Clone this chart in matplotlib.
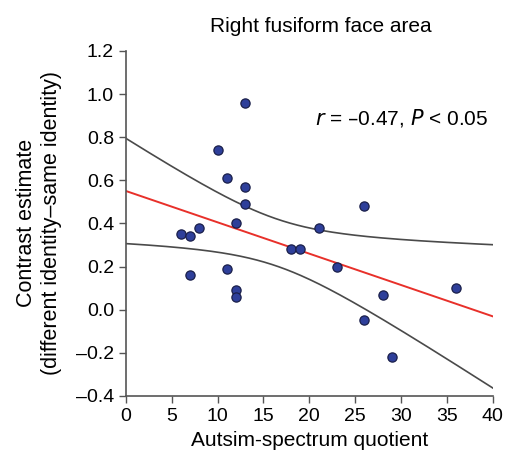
import numpy as np
import matplotlib
matplotlib.use("Agg")
import matplotlib.pyplot as plt

plt.rcParams['font.family'] = ['Liberation Sans', 'DejaVu Sans']

# autism-spectrum quotient vs contrast estimate
aq = [6, 7, 8, 7, 10, 11, 11, 12, 12, 12, 13, 13, 13, 18, 19, 21, 23, 26, 26, 28, 29, 36]
contrast = [0.35, 0.34, 0.38, 0.16, 0.74, 0.61, 0.19, 0.40, 0.09, 0.06, 0.96, 0.57,
            0.49, 0.28, 0.28, 0.38, 0.20, 0.48, -0.05, 0.07, -0.22, 0.10]

xticks = [0, 5, 10, 15, 20, 25, 30, 35, 40]
yticks = [-0.4, -0.2, 0.0, 0.2, 0.4, 0.6, 0.8, 1.0, 1.2]

x = np.array(aq, dtype=float)
y = np.array(contrast)
n = len(x)

# least squares fit and 95% confidence band of the mean
slope, intercept = np.polyfit(x, y, 1)
resid = y - (slope * x + intercept)
s = np.sqrt(np.sum(resid ** 2) / (n - 2))
t = 2.086  # t(0.975, 20)
xs = np.linspace(0, 40, 200)
fit = slope * xs + intercept
se = s * np.sqrt(1.0 / n + (xs - x.mean()) ** 2 / np.sum((x - x.mean()) ** 2))

fig = plt.figure(figsize=(5.16, 4.55), dpi=100)
ax = fig.add_axes([0.244, 0.130, 0.711, 0.758])

ax.plot(xs, fit + t * se, color='#4a4a4a', lw=1.2)
ax.plot(xs, fit - t * se, color='#4a4a4a', lw=1.2)
ax.plot(xs, fit, color='#e8302a', lw=1.4)
ax.scatter(x, y, s=44, color='#2e3f9a', edgecolor='#1a1f4a', linewidth=0.9, zorder=3)

ax.set_xlim(0, 40)
ax.set_ylim(-0.4, 1.2)
ax.set_xticks(xticks)
ax.set_yticks(yticks)
ax.set_yticklabels([f"{v:.1f}".replace('-', '\u2013') for v in yticks])
ax.tick_params(labelsize=14, color='#555555', direction='out', length=5, width=1)
ax.tick_params(axis='x', pad=4)
for side in ['top', 'right']:
    ax.spines[side].set_visible(False)
for side in ['left', 'bottom']:
    ax.spines[side].set_color('#555555')
    ax.spines[side].set_linewidth(1.2)

ax.set_xlabel('Autsim-spectrum quotient', fontsize=15, labelpad=4)
ax.set_ylabel('Contrast estimate\n(different identity\u2013same identity)', fontsize=15.5,
              labelpad=10, linespacing=1.25)
ax.set_title('Right fusiform face area', fontsize=15, pad=14, x=0.53)
ax.text(20.6, 0.89, '$r$ = \u20130.47, $P$ < 0.05', fontsize=15, va='center', ha='left')

fig.savefig('out.png', dpi=100)
